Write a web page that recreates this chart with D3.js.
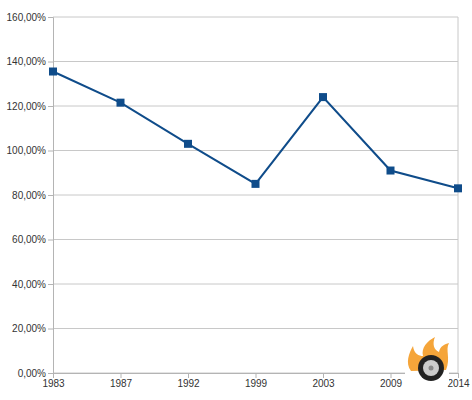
<!DOCTYPE html>
<html><head><meta charset="utf-8">
<script src="https://cdn.jsdelivr.net/npm/d3@7"></script>
<style>body{margin:0;background:#fff}text{font-family:"Liberation Sans",Arial,sans-serif;font-size:10px;fill:#333}</style>
</head><body><div class="chart"></div>
<script>
var years = ["1983", "1987", "1992", "1999", "2003", "2009", "2014"];
var values = [135.5, 121.5, 103, 85, 124, 91, 83];
var yTicks = [0, 20, 40, 60, 80, 100, 120, 140, 160];

var svgWidth = 472, svgHeight = 400;
var margin = {top: 17, right: 14, bottom: 27, left: 53};
var width = svgWidth - margin.left - margin.right;
var height = svgHeight - margin.top - margin.bottom;

var svg = d3.select(".chart").append("svg")
  .attr("width", svgWidth).attr("height", svgHeight);
var chartGroup = svg.append("g")
  .attr("transform", `translate(${margin.left}, ${margin.top})`);

var xScale = d3.scalePoint().domain(years).range([0, width]);
var yScale = d3.scaleLinear().domain([0, 160]).range([height, 0]);

// gridlines
chartGroup.selectAll(".grid").data(yTicks).enter().append("line")
  .attr("x1", 0).attr("x2", width)
  .attr("y1", d => yScale(d)).attr("y2", d => yScale(d))
  .attr("stroke", "#c8c8c8");
chartGroup.append("line").attr("x1", width).attr("x2", width)
  .attr("y1", 0).attr("y2", height).attr("stroke", "#c8c8c8");

var fmt = d => d3.format(".2f")(d).replace(".", ",") + "%";
chartGroup.append("g")
  .call(d3.axisLeft(yScale).tickValues(yTicks).tickFormat(fmt).tickSize(5).tickPadding(2));
chartGroup.append("g").attr("transform", `translate(0,${height})`)
  .call(d3.axisBottom(xScale).tickSize(5).tickPadding(2));
svg.selectAll(".domain, .tick line").attr("stroke", "#b4b4b4");
svg.selectAll(".tick text").style("fill", "#333").style("font-size", "10px");

// line
chartGroup.append("path").datum(values)
  .attr("fill", "none").attr("stroke", "#0f4c8a").attr("stroke-width", 2)
  .attr("d", d3.line().x((d, i) => xScale(years[i])).y(d => yScale(d)));
chartGroup.selectAll(".pt").data(values).enter().append("rect")
  .attr("x", (d, i) => xScale(years[i]) - 4).attr("y", d => yScale(d) - 4)
  .attr("width", 8).attr("height", 8).attr("fill", "#0f4c8a");

// logo
var logo = svg.append("g").attr("transform", "translate(431,368)");
logo.append("rect").attr("x", -26).attr("y", -33).attr("width", 44).attr("height", 50).attr("fill", "#fff");
logo.append("path").attr("fill", "#f5a53a")
  .attr("d", "M-20,3 C-26,-5 -22,-15 -18,-22 C-17,-14 -12,-12 -8,-12 C-10,-20 -4,-27 4,-31 C1,-24 3,-18 8,-16 C9,-22 14,-24 18,-25 C14,-18 20,-10 15,2 Z");
logo.append("circle").attr("r", 13).attr("fill", "#222");
logo.append("circle").attr("r", 8).attr("fill", "#ccc");
logo.append("circle").attr("r", 2.5).attr("fill", "#888");
</script></body></html>
